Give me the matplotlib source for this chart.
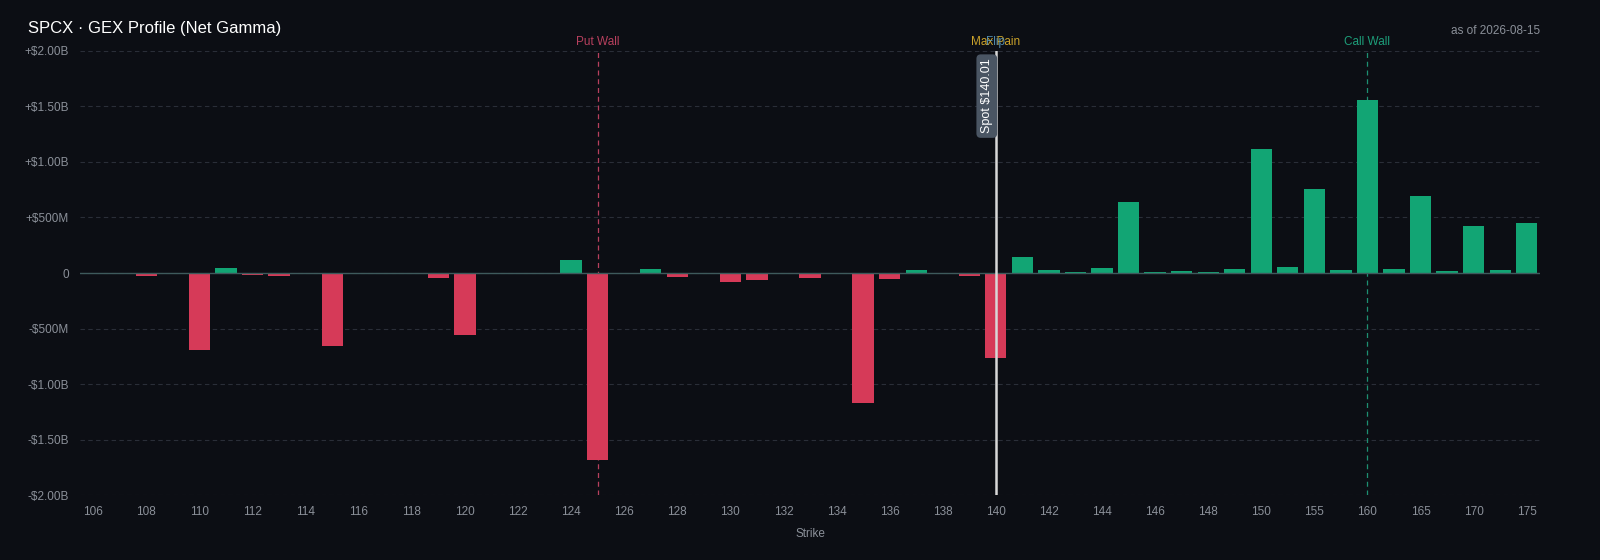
import numpy as np
import matplotlib
matplotlib.use("Agg")
from matplotlib import pyplot as plt
from matplotlib.ticker import FuncFormatter

# strikes (categorical axis) and net gamma in $B
strikes = [106, 107, 108, 109, 110, 111, 112, 113, 114, 115,
           116, 117, 118, 119, 120, 121, 122, 123, 124, 125,
           126, 127, 128, 129, 130, 131, 132, 133, 134, 135,
           136, 137, 138, 139, 140, 141, 142, 143, 144, 145,
           146, 147, 148, 149, 150, 152.5, 155, 157.5, 160, 162.5,
           165, 167.5, 170, 172.5, 175]
net_gex = [-0.005, -0.006, -0.024, -0.005, -0.69, 0.042, -0.018, -0.03, -0.004, -0.66,
           -0.004, -0.004, -0.004, -0.042, -0.56, -0.005, -0.006, -0.005, 0.12, -1.68,
           -0.002, 0.04, -0.04, -0.01, -0.084, -0.066, -0.003, -0.048, -0.002, -1.17,
           -0.05, 0.03, -0.005, -0.027, -0.77, 0.145, 0.027, 0.01, 0.045, 0.64,
           0.01, 0.02, 0.012, 0.036, 1.12, 0.05, 0.76, 0.027, 1.56, 0.04,
           0.69, 0.018, 0.42, 0.03, 0.45]
tick_strikes = [106, 108, 110, 112, 114, 116, 118, 120, 122, 124, 126, 128, 130,
                132, 134, 136, 138, 140, 142, 144, 146, 148, 150, 155, 160, 165, 170, 175]

spot = 140.01
put_wall = 125
call_wall = 160
max_pain = 140
flip = 140
title = "SPCX \u00b7 GEX Profile (Net Gamma)"
asof = "as of 2026-08-15"

BG = "#0c0e14"
RED = "#d63a58"
GREEN = "#12a574"
GRID = "#2a2e38"
TXT = "#8b9099"

plt.rcParams['font.family'] = ['Liberation Sans', 'DejaVu Sans']

fig = plt.figure(figsize=(16, 5.6), dpi=100, facecolor=BG)
ax = fig.add_axes([0.05, 0.116, 0.9125, 0.793], facecolor=BG)

x = np.arange(len(strikes))
colors = [GREEN if v >= 0 else RED for v in net_gex]
ax.bar(x, net_gex, width=0.8, color=colors, zorder=3)
ax.axhline(0, color="#3e5a5c", lw=1, zorder=4)

ax.set_xlim(-0.5, len(strikes) - 0.5)
ax.set_ylim(-2.0, 2.0)
ax.set_yticks([-2, -1.5, -1, -0.5, 0, 0.5, 1, 1.5, 2])


def fmt(v, pos):
    if abs(v) < 1e-9:
        return "0"
    sign = "+" if v > 0 else "-"
    if abs(v) >= 1:
        return f"{sign}${abs(v):.2f}B"
    return f"{sign}${abs(v) * 1000:.0f}M"


ax.yaxis.set_major_formatter(FuncFormatter(fmt))
ax.set_xticks([strikes.index(s) for s in tick_strikes])
ax.set_xticklabels([str(s) for s in tick_strikes])
ax.tick_params(colors=TXT, labelsize=8.5, length=0, pad=8)
ax.grid(axis="y", color=GRID, ls=(0, (4, 3)), lw=0.8, zorder=0)
for s in ax.spines.values():
    s.set_visible(False)
ax.set_xlabel("Strike", color=TXT, fontsize=8.5, labelpad=7)


def xpos(k):
    return np.interp(k, strikes, x)


# levels
ax.axvline(xpos(put_wall), color="#b8405e", ls=(0, (4, 3)), lw=0.9, zorder=2)
ax.axvline(xpos(call_wall), color="#1d8f72", ls=(0, (4, 3)), lw=0.9, zorder=2)
ax.axvline(xpos(spot), color="#d8d8d8", lw=1.8, zorder=5)

lab_y = 2.03
ax.text(xpos(put_wall), lab_y, "Put Wall", color="#b8405e", fontsize=8.5, ha="center", va="bottom")
ax.text(xpos(call_wall), lab_y, "Call Wall", color="#1d9e7a", fontsize=8.5, ha="center", va="bottom")
ax.text(xpos(max_pain), lab_y, "Max Pain", color="#c9a12a", fontsize=8.5, ha="center", va="bottom")
ax.text(xpos(flip), lab_y, "Flip", color="#5c9fc4", fontsize=8.5, ha="center", va="bottom", alpha=0.85)

ax.text(xpos(spot) - 0.35, 1.93, f"Spot ${spot:.2f}", rotation=90, color="white", fontsize=9,
        ha="center", va="top", zorder=6,
        bbox=dict(boxstyle="round,pad=0.35", fc="#4a5563", ec="none"))

fig.text(28 / 1600, 1 - 28 / 560, title, color="white", fontsize=12, ha="left", va="center")
fig.text(1540 / 1600, 1 - 31 / 560, asof, color=TXT, fontsize=8.5, ha="right", va="center")

fig.savefig("out.png", facecolor=BG)
